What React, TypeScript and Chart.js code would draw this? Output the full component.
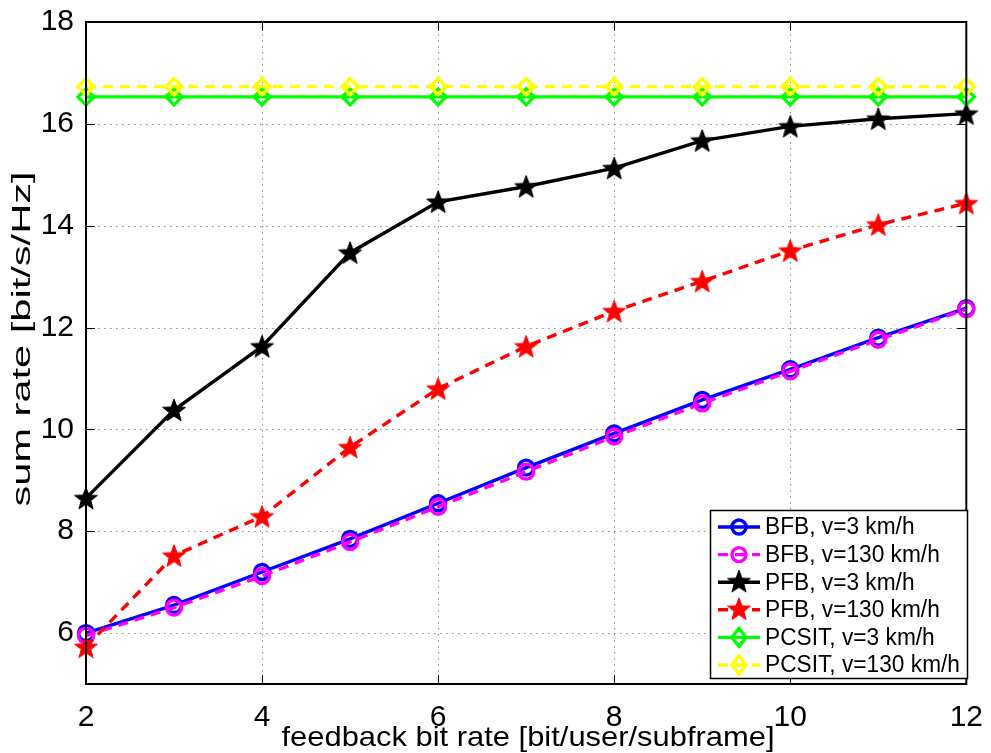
import React, { useEffect, useRef } from "react";
import { Chart, registerables } from "chart.js";

Chart.register(...registerables);

// Feedback bit rate (bit/user/subframe)
const feedbackBits = [2, 3, 4, 5, 6, 7, 8, 9, 10, 11, 12];

// Sum rate (bit/s/Hz) per scheme
const bfbSlow = [6.0, 6.55, 7.2, 7.85, 8.55, 9.25, 9.92, 10.58, 11.18, 11.8, 12.38];
const bfbFast = [5.95, 6.5, 7.12, 7.79, 8.48, 9.17, 9.86, 10.51, 11.14, 11.76, 12.36];
const pfbSlow = [8.65, 10.38, 11.63, 13.47, 14.47, 14.77, 15.13, 15.67, 15.95, 16.1, 16.2];
const pfbFast = [5.73, 7.52, 8.29, 9.65, 10.8, 11.63, 12.32, 12.91, 13.51, 14.02, 14.44];
const pcsitSlow = [16.53, 16.53, 16.53, 16.53, 16.53, 16.53, 16.53, 16.53, 16.53, 16.53, 16.53];
const pcsitFast = [16.73, 16.73, 16.73, 16.73, 16.73, 16.73, 16.73, 16.73, 16.73, 16.73, 16.73];

const seriesLabels = [
  "BFB, v=3 km/h",
  "BFB, v=130 km/h",
  "PFB, v=3 km/h",
  "PFB, v=130 km/h",
  "PCSIT, v=3 km/h",
  "PCSIT, v=130 km/h",
];

const xTicks = [2, 4, 6, 8, 10, 12];
const yTicks = [6, 8, 10, 12, 14, 16, 18];

const xTitle = "feedback bit rate [bit/user/subframe]";
const yTitle = "sum rate [bit/s/Hz]";

const FONT = "'Liberation Sans', Arial, Helvetica, sans-serif";

function makeStar(color: string, outer: number, inner: number): HTMLCanvasElement {
  const size = Math.ceil(outer * 2 + 4);
  const c = document.createElement("canvas");
  c.width = size;
  c.height = size;
  const ctx = c.getContext("2d")!;
  const cx = size / 2;
  const cy = size / 2 + 1;
  ctx.beginPath();
  for (let i = 0; i < 10; i++) {
    const r = i % 2 === 0 ? outer : inner;
    const a = -Math.PI / 2 + (i * Math.PI) / 5;
    const px = cx + r * Math.cos(a);
    const py = cy + r * Math.sin(a);
    if (i === 0) ctx.moveTo(px, py);
    else ctx.lineTo(px, py);
  }
  ctx.closePath();
  ctx.fillStyle = color;
  ctx.fill();
  ctx.strokeStyle = color;
  ctx.lineWidth = 1;
  ctx.stroke();
  return c;
}

export default function App() {
  const canvasRef = useRef<HTMLCanvasElement | null>(null);

  useEffect(() => {
    const canvas = canvasRef.current;
    if (!canvas) return;

    const blackStar = makeStar("#000000", 12, 5);
    const redStar = makeStar("#ff0000", 12, 5);

    const styles = [
      { color: "#0000ff", dash: [] as number[], point: "circle" as any, radius: 7.5 },
      { color: "#ff00ff", dash: [10, 7], point: "circle" as any, radius: 7.5 },
      { color: "#000000", dash: [] as number[], point: blackStar as any, radius: 12 },
      { color: "#ff0000", dash: [10, 7], point: redStar as any, radius: 12 },
      { color: "#00ff00", dash: [] as number[], point: "rectRot" as any, radius: 8 },
      { color: "#ffff00", dash: [10, 7], point: "rectRot" as any, radius: 8 },
    ];
    const allSeries = [bfbSlow, bfbFast, pfbSlow, pfbFast, pcsitSlow, pcsitFast];

    const datasets = allSeries.map((vals, i) => ({
      label: seriesLabels[i],
      data: vals.map((v, j) => ({ x: feedbackBits[j], y: v })),
      borderColor: styles[i].color,
      backgroundColor: styles[i].color,
      borderWidth: 3.4,
      borderDash: styles[i].dash,
      pointStyle: styles[i].point,
      pointRadius: styles[i].radius,
      pointHoverRadius: styles[i].radius,
      pointBorderColor: styles[i].color,
      pointBackgroundColor: "rgba(0,0,0,0)",
      pointBorderWidth: 3.4,
      tension: 0,
      order: 6 - i,
      clip: false as any,
    }));

    const framePlugin = {
      id: "frame",
      beforeDatasetsDraw(chart: any) {
        const { ctx, chartArea: a, scales } = chart;
        const xs = scales.x;
        const ys = scales.y;
        ctx.save();
        // dotted grid
        ctx.strokeStyle = "#8c8c8c";
        ctx.lineWidth = 1;
        ctx.setLineDash([1.5, 4.5]);
        xTicks.forEach((t) => {
          const px = Math.round(xs.getPixelForValue(t)) + 0.5;
          ctx.beginPath();
          ctx.moveTo(px, a.top);
          ctx.lineTo(px, a.bottom);
          ctx.stroke();
        });
        yTicks.forEach((t) => {
          const py = Math.round(ys.getPixelForValue(t)) + 0.5;
          ctx.beginPath();
          ctx.moveTo(a.left, py);
          ctx.lineTo(a.right, py);
          ctx.stroke();
        });
        ctx.setLineDash([]);
        // inward tick marks on all sides
        ctx.strokeStyle = "#000";
        ctx.lineWidth = 1;
        const tl = 9;
        xTicks.forEach((t) => {
          const px = Math.round(xs.getPixelForValue(t)) + 0.5;
          ctx.beginPath();
          ctx.moveTo(px, a.bottom);
          ctx.lineTo(px, a.bottom - tl);
          ctx.moveTo(px, a.top);
          ctx.lineTo(px, a.top + tl);
          ctx.stroke();
        });
        yTicks.forEach((t) => {
          const py = Math.round(ys.getPixelForValue(t)) + 0.5;
          ctx.beginPath();
          ctx.moveTo(a.left, py);
          ctx.lineTo(a.left + tl, py);
          ctx.moveTo(a.right, py);
          ctx.lineTo(a.right - tl, py);
          ctx.stroke();
        });
        ctx.restore();
      },
      afterDatasetsDraw(chart: any) {
        const { ctx, chartArea: a } = chart;
        ctx.save();
        // axes box
        ctx.strokeStyle = "#000";
        ctx.lineWidth = 2;
        ctx.strokeRect(a.left, a.top, a.right - a.left, a.bottom - a.top);

        // axis titles, stretched to their drawn lengths
        ctx.fillStyle = "#000";
        ctx.font = `28px ${FONT}`;
        ctx.textAlign = "center";
        ctx.textBaseline = "middle";
        const xw = ctx.measureText(xTitle).width;
        ctx.save();
        ctx.translate(528, 738);
        ctx.scale(493 / xw, 1);
        ctx.fillText(xTitle, 0, 0);
        ctx.restore();

        ctx.font = `26px ${FONT}`;
        const yw = ctx.measureText(yTitle).width;
        ctx.save();
        ctx.translate(23, 339);
        ctx.rotate(-Math.PI / 2);
        ctx.scale(335 / yw, 1);
        ctx.fillText(yTitle, 0, 0);
        ctx.restore();

        // legend
        const lx = 710;
        const ly = 510;
        const lw = 257;
        const lh = 168;
        ctx.fillStyle = "#fff";
        ctx.fillRect(lx, ly, lw, lh);
        ctx.strokeStyle = "#000";
        ctx.lineWidth = 1.5;
        ctx.strokeRect(lx + 0.5, ly + 0.5, lw, lh);
        ctx.font = `23px ${FONT}`;
        ctx.textAlign = "left";
        ctx.textBaseline = "middle";
        const longest = ctx.measureText(seriesLabels[5]).width;
        const textScale = 195 / longest;
        seriesLabels.forEach((label, i) => {
          const cy = 527 + i * 27.6;
          const st = styles[i];
          ctx.strokeStyle = st.color;
          ctx.lineWidth = 3.4;
          ctx.setLineDash(st.dash);
          ctx.beginPath();
          ctx.moveTo(718, cy);
          ctx.lineTo(760, cy);
          ctx.stroke();
          ctx.setLineDash([]);
          const mx = 739;
          if (st.point === "circle") {
            ctx.lineWidth = 3.4;
            ctx.beginPath();
            ctx.arc(mx, cy, 7, 0, Math.PI * 2);
            ctx.stroke();
          } else if (st.point === "rectRot") {
            ctx.lineWidth = 3.4;
            const r = 9;
            ctx.beginPath();
            ctx.moveTo(mx, cy - r);
            ctx.lineTo(mx + r * 0.8, cy);
            ctx.lineTo(mx, cy + r);
            ctx.lineTo(mx - r * 0.8, cy);
            ctx.closePath();
            ctx.stroke();
          } else {
            const img = st.point as HTMLCanvasElement;
            ctx.drawImage(img, mx - img.width / 2, cy - img.height / 2 - 1);
          }
          ctx.fillStyle = "#000";
          ctx.save();
          ctx.translate(765, cy + 1);
          ctx.scale(textScale, 1);
          ctx.fillText(label, 0, 0);
          ctx.restore();
        });
        ctx.restore();
      },
    };

    const chart = new Chart(canvas, {
      type: "line",
      data: { datasets: datasets as any },
      options: {
        animation: false,
        responsive: false,
        devicePixelRatio: 1,
        layout: { padding: { left: 0, right: 19, top: 19, bottom: 0 } },
        plugins: {
          legend: { display: false },
          tooltip: { enabled: false },
          title: { display: false },
        },
        scales: {
          x: {
            type: "linear",
            min: 2,
            max: 12,
            grid: { display: false },
            border: { display: false },
            afterBuildTicks: (scale: any) => {
              scale.ticks = xTicks.map((v) => ({ value: v }));
            },
            afterFit: (scale: any) => {
              scale.height = 69;
            },
            ticks: {
              color: "#000",
              padding: 8,
              maxRotation: 0,
              autoSkip: false,
              font: { family: FONT, size: 30 },
            },
          },
          y: {
            type: "linear",
            min: 5,
            max: 18,
            grid: { display: false },
            border: { display: false },
            afterBuildTicks: (scale: any) => {
              scale.ticks = yTicks.map((v) => ({ value: v }));
            },
            afterFit: (scale: any) => {
              scale.width = 86;
            },
            ticks: {
              color: "#000",
              padding: 4,
              autoSkip: false,
              font: { family: FONT, size: 30 },
            },
          },
        },
      },
      plugins: [framePlugin],
    });

    return () => {
      chart.destroy();
    };
  }, []);

  return (
    <div style={{ position: "absolute", left: 0, top: 0, width: 991, height: 753, background: "#fff" }}>
      <canvas ref={canvasRef} width={991} height={753} style={{ display: "block" }} />
    </div>
  );
}
